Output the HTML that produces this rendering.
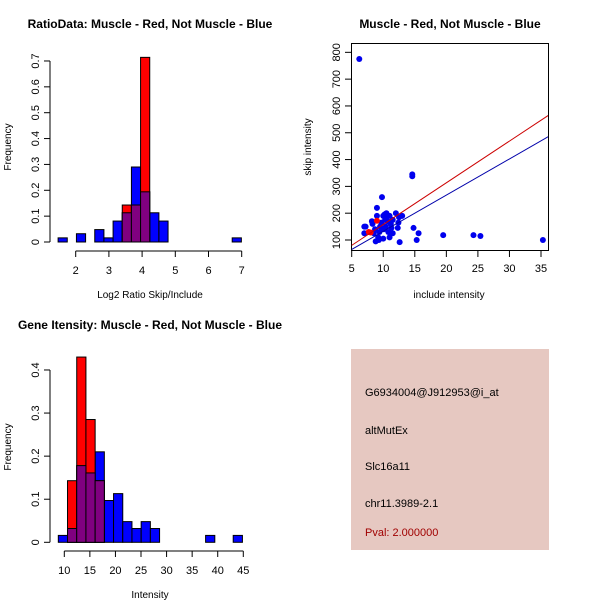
<!DOCTYPE html>
<html><head><meta charset="utf-8"><style>
html,body{margin:0;padding:0;background:#fff}
svg{display:block;font-family:"Liberation Sans",sans-serif}
</style></head><body>
<svg id="c" width="600" height="600" viewBox="0 0 600 600"></svg>
<script>
// Panel 1 data: log2 ratio histogram
const ratioBinStart = 1.47, ratioBinWidth = 0.276;
const ratioBlue = [0.016,0,0.032,0,0.048,0.016,0.081,0.113,0.29,0.194,0.113,0.081,0,0,0,0,0,0,0,0.016];
const ratioRed  = [0,0,0,0,0,0,0,0.143,0.143,0.714,0,0,0,0,0,0,0,0,0,0];
const ratioXTicks = [2,3,4,5,6,7];
const ratioYTicks = [0,0.1,0.2,0.3,0.4,0.5,0.6,0.7];
// Panel 2 data: intensity histogram
const intBinStart = 8.83, intBinWidth = 1.8;
const intBlue = [0.016,0.032,0.178,0.161,0.21,0.097,0.113,0.048,0.032,0.048,0.032,0,0,0,0,0,0.016,0,0,0.016];
const intRed  = [0,0.143,0.43,0.285,0.143,0,0,0,0,0,0,0,0,0,0,0,0,0,0,0];
const intXTicks = [10,15,20,25,30,35,40,45];
const intYTicks = [0,0.1,0.2,0.3,0.4];
// Panel 3 data: scatter
const blueInclude = [6.2,7,7.2,7,8.2,8.3,8.5,8.8,9,9,9.2,9.3,9.5,9.8,10,10.2,10.3,10.5,10.6,10.8,11,11,11.2,11.5,10,12,12.3,12.4,12.5,12.6,13,14.6,14.6,14.8,15.3,15.6,19.5,24.3,25.4,35.3,8.7,9.7,10.4,11.5,10.7,9.4,10.1,11.3];
const blueSkip    = [775,150,150,125,170,160,125,95,220,190,110,100,150,260,190,195,175,200,190,130,190,110,160,125,105,200,145,165,185,92,190,345,338,145,100,125,118,118,115,100,140,165,150,175,170,130,140,145];
const redInclude = [7.7,8.0,9.0];
const redSkip = [130,128,172];
const redLine = [[5,80],[36.5,570]];
const blueLine = [[5,65],[36.5,490]];
const scatXTicks = [5,10,15,20,25,30,35];
const scatYTicks = [100,200,300,400,500,600,700,800];

const svg = document.getElementById('c');
const NS = 'http://www.w3.org/2000/svg';
function mk(tag, attrs, parent, text){
  const e = document.createElementNS(NS, tag);
  for (const k in attrs) e.setAttribute(k, attrs[k]);
  if (text !== undefined) e.textContent = text;
  (parent||svg).appendChild(e);
  return e;
}
function txt(x,y,s,opts,name){
  const t = mk('text', Object.assign({x:x,y:y,'font-size':11,'text-anchor':'middle',fill:'#000'},opts||{}), svg, s);
  
  
  return t;
}
function hist(p){
  const g = mk('g', {});
  
  
  const sx = v => p.x0 + (v - p.xv0) * p.kx;
  const sy = v => p.y0 - v * p.ky;
  function bars(vals, fill, nm){
    vals.forEach((v,i)=>{
      if (v <= 0) return;
      const a = sx(p.bs + i*p.bw), b = sx(p.bs + (i+1)*p.bw);
      const r = mk('rect', {x:a, y:sy(v), width:b-a, height:p.y0-sy(v), fill:fill, stroke:'#000', 'stroke-width':1}, g);
      
      
    });
  }
  bars(p.blue, '#0000ff', 'blue-bar');
  bars(p.red, '#ff0000', 'red-bar');
  const ov = p.blue.map((v,i)=>Math.min(v,p.red[i]));
  bars(ov, '#800080', 'overlap-bar');
  const ya = mk('g', {}, g);
  
  
  mk('line',{x1:p.yax,x2:p.yax,y1:sy(p.yt[0]),y2:sy(p.yt[p.yt.length-1]),stroke:'#000'},ya);
  p.yt.forEach(t=>{
    mk('line',{x1:p.yax-6,x2:p.yax,y1:sy(t),y2:sy(t),stroke:'#000'},ya);
    const tt = mk('text',{x:0,y:0,'font-size':11,'text-anchor':'middle',transform:`translate(${p.yax-11},${sy(t)}) rotate(-90)`},ya,String(t));
    
    
  });
  const xa = mk('g', {}, g);
  
  
  mk('line',{x1:sx(p.xt[0]),x2:sx(p.xt[p.xt.length-1]),y1:p.xay,y2:p.xay,stroke:'#000'},xa);
  p.xt.forEach(t=>{
    mk('line',{x1:sx(t),x2:sx(t),y1:p.xay,y2:p.xay+6,stroke:'#000'},xa);
    const tt = mk('text',{x:sx(t),y:p.xay+23,'font-size':11,'text-anchor':'middle'},xa,String(t));
    
    
  });
}
// Panel 1
hist({name:'ratio-histogram', x0:75.7, xv0:2, kx:33.2, y0:242, ky:258.6, bs:ratioBinStart, bw:ratioBinWidth,
  blue:ratioBlue, red:ratioRed, xt:ratioXTicks, yt:ratioYTicks, yax:50, xay:251});
txt(150,28,'RatioData: Muscle - Red, Not Muscle - Blue',{'font-weight':'bold','font-size':12},'ratio-title');
txt(150,298,'Log2 Ratio Skip/Include',{'font-size':10},'ratio-x-axis-title');
txt(0,0,'Frequency',{'font-size':10,transform:'translate(11,147) rotate(-90)'},'ratio-y-axis-title');
// Panel 2
hist({name:'intensity-histogram', x0:64.3, xv0:10, kx:5.114, y0:542.3, ky:430.8, bs:intBinStart, bw:intBinWidth,
  blue:intBlue, red:intRed, xt:intXTicks, yt:intYTicks, yax:50, xay:551});
txt(150,329,'Gene Itensity: Muscle - Red, Not Muscle - Blue',{'font-weight':'bold','font-size':12},'intensity-title');
txt(150,598,'Intensity',{'font-size':10},'intensity-x-axis-title');
txt(0,0,'Frequency',{'font-size':10,transform:'translate(11,447) rotate(-90)'},'intensity-y-axis-title');
// Panel 3 scatter
(function(){
  const g = mk('g',{});
  
  
  const sx = v => 351.7 + (v-5)*6.31;
  const sy = v => 240 - (v-100)*0.2681;
  const clip = mk('clipPath',{id:'cp'},g);
  mk('rect',{x:351,y:43,width:197,height:207},clip);
  const box = mk('rect',{x:351.5,y:43.5,width:197,height:207,fill:'none',stroke:'#000'},g);
  
  
  blueInclude.forEach((v,i)=>{
    const c = mk('circle',{cx:sx(v),cy:sy(blueSkip[i]),r:3,fill:'#0000ee'},g);
    
    
  });
  redInclude.forEach((v,i)=>{
    const c = mk('circle',{cx:sx(v),cy:sy(redSkip[i]),r:3,fill:'#ff0000'},g);
    
    
  });
  const rl = mk('line',{x1:sx(redLine[0][0]),y1:sy(redLine[0][1]),x2:sx(redLine[1][0]),y2:sy(redLine[1][1]),stroke:'#cc0000','clip-path':'url(#cp)'},g);
  
  
  const bl = mk('line',{x1:sx(blueLine[0][0]),y1:sy(blueLine[0][1]),x2:sx(blueLine[1][0]),y2:sy(blueLine[1][1]),stroke:'#0000aa','clip-path':'url(#cp)'},g);
  
  
  scatXTicks.forEach(t=>{
    mk('line',{x1:sx(t),x2:sx(t),y1:251,y2:257,stroke:'#000'},g);
    const tt = mk('text',{x:sx(t),y:272,'font-size':11,'text-anchor':'middle'},g,String(t));
    
    
  });
  scatYTicks.forEach(t=>{
    mk('line',{x1:345,x2:351,y1:sy(t),y2:sy(t),stroke:'#000'},g);
    const tt = mk('text',{x:0,y:0,'font-size':11,'text-anchor':'middle',transform:`translate(340,${sy(t)}) rotate(-90)`},g,String(t));
    
    
  });
})();
txt(450,28,'Muscle - Red, Not Muscle - Blue',{'font-weight':'bold','font-size':12},'scatter-title');
txt(449,298,'include intensity',{'font-size':10},'scatter-x-axis-title');
txt(0,0,'skip intensity',{'font-size':10,transform:'translate(311,147) rotate(-90)'},'scatter-y-axis-title');
// Panel 4 info
const info = mk('rect',{x:351,y:349,width:198,height:201,fill:'#e6c8c1'});


txt(365,396,'G6934004@J912953@i_at',{'font-size':11,'text-anchor':'start'},'probe-id');
txt(365,434,'altMutEx',{'font-size':11,'text-anchor':'start'},'event-type');
txt(365,470,'Slc16a11',{'font-size':11,'text-anchor':'start'},'gene-name');
txt(365,507,'chr11.3989-2.1',{'font-size':11,'text-anchor':'start'},'location');
txt(365,536,'Pval: 2.000000',{'font-size':11,'text-anchor':'start',fill:'#a00000'},'p-value');
</script>
</body></html>
